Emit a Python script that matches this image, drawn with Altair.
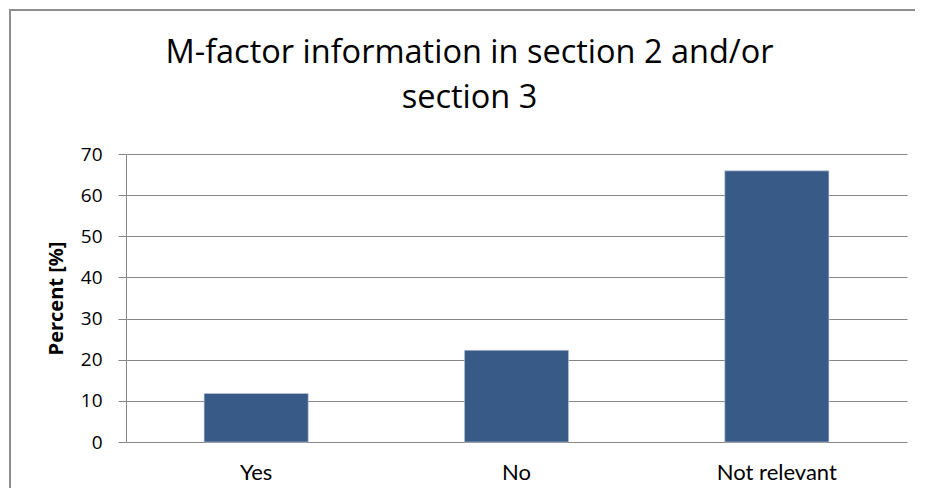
import altair as alt
import pandas as pd

categories = ["Yes", "No", "Not relevant"]
percent = [11.8, 22.3, 65.9]
title_lines = ["M-factor information in section 2 and/or", "section 3"]
y_ticks = [0, 10, 20, 30, 40, 50, 60, 70]

df = pd.DataFrame({"category": categories, "percent": percent})
frame_df = pd.DataFrame({"part": ["frame"]})

W, H = 781, 288
BORDER = "#8e8e8e"

bars = alt.Chart(df).mark_bar(color="#385a87", stroke="#c5cfdd", strokeWidth=0.6).encode(
    x=alt.X("category:N", sort=categories,
            scale=alt.Scale(paddingInner=0.6, paddingOuter=0.3),
            axis=alt.Axis(title=None, labelAngle=0, ticks=False, domain=False,
                          labelFont="Lato", labelFontSize=22, labelColor="#000000",
                          labelPadding=20, grid=False)),
    y=alt.Y("percent:Q",
            scale=alt.Scale(domain=[0, 70], nice=False),
            axis=alt.Axis(title="Percent [%]", values=y_ticks, format="d",
                          labelFont="Open Sans", labelFontSize=19, labelColor="#000000",
                          labelPadding=16, tickSize=8, tickColor="#868686",
                          domainColor="#868686", gridColor="#868686", gridWidth=1.2,
                          titleFont="Open Sans", titleFontSize=20, titleFontWeight="bold",
                          titleColor="#000000", titlePadding=14)),
)

left_border = alt.Chart(frame_df).mark_rect(color=BORDER, strokeWidth=0).encode(
    x=alt.value(-117), x2=alt.value(-115), y=alt.value(-145), y2=alt.value(H + 46)
)
top_border = alt.Chart(frame_df).mark_rect(color=BORDER, strokeWidth=0).encode(
    x=alt.value(-117), x2=alt.value(W + 8), y=alt.value(-145), y2=alt.value(-143)
)

chart = alt.layer(left_border, top_border, bars).properties(
    width=W, height=H,
    padding={"left": 118, "top": 146, "right": 8, "bottom": 46},
    autosize=alt.AutoSizeParams(type="none"),
    title=alt.TitleParams(text=title_lines, font="Open Sans", fontSize=32.5,
                          fontWeight="normal", color="#000000", anchor="middle",
                          frame="group", dx=-47, baseline="alphabetic",
                          lineHeight=45, offset=-131),
).configure_view(stroke=None).configure_axis(grid=True)

chart.save("out.html", embed_options={"renderer": "svg", "actions": False})
